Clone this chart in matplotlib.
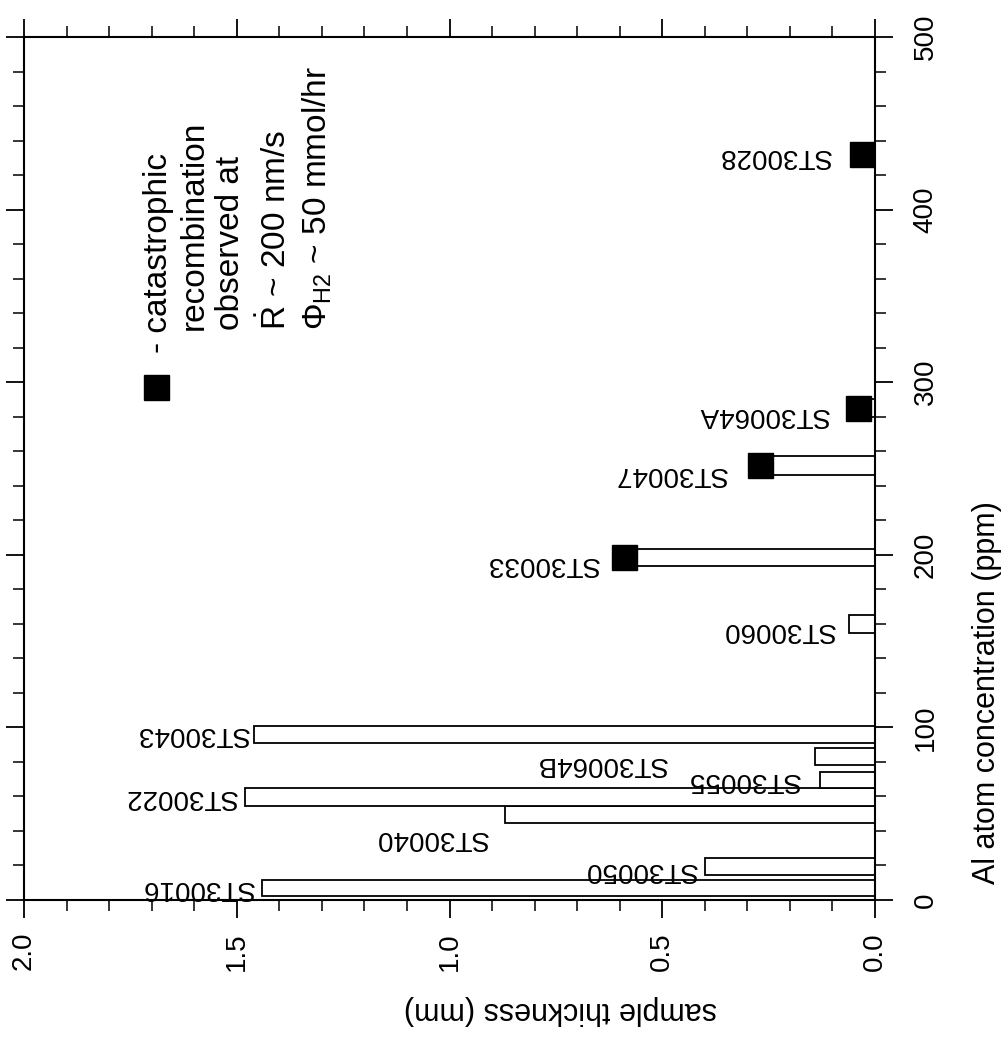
import matplotlib
matplotlib.use("Agg")
import matplotlib.pyplot as plt
from matplotlib import font_manager
from matplotlib.ticker import MultipleLocator, FormatStrFormatter

# samples: Al range (ppm) and thickness (mm)
samples = ["ST30016", "ST30050", "ST30040", "ST30022", "ST30055", "ST30064B",
           "ST30043", "ST30060", "ST30033", "ST30047", "ST30064A", "ST30028"]
al_low = [2.3, 14.5, 44.8, 54.6, 65.0, 78.0, 91.0, 154.7, 193.6, 246.5, 280.0, 427.0]
al_high = [11.6, 24.4, 54.6, 65.0, 74.4, 88.0, 101.0, 165.0, 203.5, 257.0, 290.0, 437.0]
thickness = [1.44, 0.40, 0.87, 1.48, 0.13, 0.14, 1.46, 0.06, 0.59, 0.27, 0.04, 0.03]
catastrophic = [False, False, False, False, False, False, False, False, True, True, True, True]

# label offsets (mm, ppm) relative to the bar end
label_dx = [0.02, 0.02, 0.04, 0.02, 0.047, 0.35, 0.012, 0.035, 0.06, 0.078, 0.068, 0.075]
label_dy = [0, -2, -14, 0, 0, -4, 0, -3.5, -3.7, -5, -4, -1]

legend_lines = ["catastrophic", "recombination", "observed at",
                r"$\dot{\mathrm{R}}$ ~ 200 nm/s", r"$\Phi_{\mathrm{H2}}$ ~ 50 mmol/hr"]


def pick(*names):
    for n in names:
        try:
            font_manager.findfont(font_manager.FontProperties(family=n),
                                  fallback_to_default=False)
            return n
        except ValueError:
            pass
    return "DejaVu Sans"


main_font = pick("Liberation Sans", "Arial")
narrow_font = pick("Liberation Sans Narrow", "Arial Narrow", "Liberation Sans")
narrow = narrow_font != main_font

plt.rcParams["font.family"] = main_font
plt.rcParams["mathtext.fontset"] = "custom"
plt.rcParams["mathtext.rm"] = main_font
plt.rcParams["mathtext.it"] = main_font + ":italic"
plt.rcParams["mathtext.bf"] = main_font + ":bold"

fig = plt.figure(figsize=(10.08, 10.51), dpi=100)
ax = fig.add_axes([24 / 1008, 1 - 900 / 1051, 851 / 1008, 863 / 1051])

ax.set_xlim(2.0, 0.0)
ax.set_ylim(0, 500)

for i, name in enumerate(samples):
    lo, hi, t = al_low[i], al_high[i], thickness[i]
    ax.barh((lo + hi) / 2, t, height=hi - lo, left=0, color="white",
            edgecolor="black", linewidth=1.3, zorder=2)
    if catastrophic[i]:
        ax.plot(t, (lo + hi) / 2, marker="s", markersize=18, color="black",
                linestyle="none", zorder=3)
    ax.text(t + label_dx[i], (lo + hi) / 2 + label_dy[i], name, rotation=180,
            rotation_mode="anchor", ha="left", va="center", fontsize=20, zorder=4)

# legend block
ax.plot(1.69, 297, marker="s", markersize=18, color="black", linestyle="none",
        clip_on=False)
ax.text(1.685, 317, "- " + legend_lines[0], rotation=90, rotation_mode="anchor",
        ha="left", va="center", fontsize=24)
legend_x = [1.60, 1.514, 1.408, 1.31]
for x, line in zip(legend_x, legend_lines[1:]):
    ax.text(x, 330, line, rotation=90, rotation_mode="anchor",
            ha="left", va="center", fontsize=24)

# axes / ticks
for s in ax.spines.values():
    s.set_linewidth(1.5)
ax.xaxis.set_major_locator(MultipleLocator(0.5))
ax.xaxis.set_minor_locator(MultipleLocator(0.1))
ax.xaxis.set_major_formatter(FormatStrFormatter("%.1f"))
ax.yaxis.set_major_locator(MultipleLocator(100))
ax.yaxis.set_minor_locator(MultipleLocator(20))
ax.tick_params(which="both", direction="out", top=True, bottom=True,
               left=True, right=True, labelleft=False, labelright=True,
               labeltop=False, labelbottom=True)
ax.tick_params(which="major", length=13, width=1.3)
ax.tick_params(which="minor", length=8, width=1.1)
ax.tick_params(axis="x", which="major", pad=10)
ax.tick_params(axis="y", which="major", pad=14)

tick_size = 24 if narrow else 20
for lbl in ax.get_xticklabels():
    lbl.set_rotation(90)
    lbl.set_fontfamily(narrow_font)
    lbl.set_fontsize(tick_size)
for lbl in ax.get_yticklabels():
    lbl.set_rotation(90)
    lbl.set_va("center")
    lbl.set_fontfamily(narrow_font)
    lbl.set_fontsize(tick_size)

label_size = 27 if narrow else 22
ax.set_xlabel("sample thickness (mm)", rotation=180, fontsize=label_size,
              fontfamily=narrow_font, va="center")
ax.xaxis.set_label_coords(0.63, -0.128)
ax.yaxis.set_label_position("right")
ax.set_ylabel("Al atom concentration (ppm)", rotation=90, fontsize=label_size,
              fontfamily=narrow_font, va="center")
ax.yaxis.set_label_coords(1.132, 0.24)

fig.savefig("out.png", dpi=100, facecolor="white")
